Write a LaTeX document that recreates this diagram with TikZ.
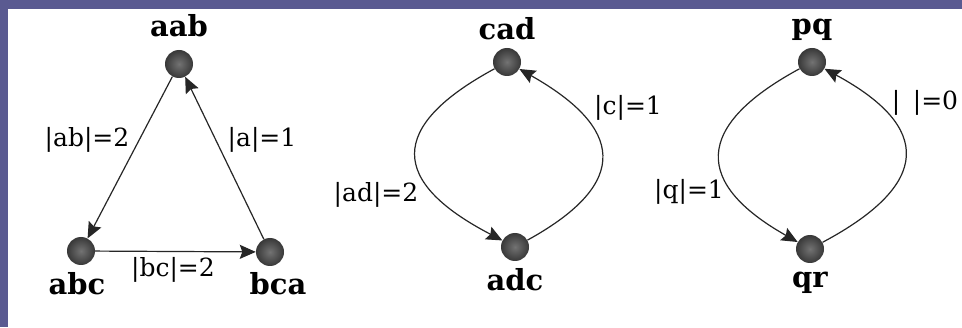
\documentclass[tikz,border=0pt]{standalone}
\usepackage{fontspec}
\setmainfont{DejaVu Serif}
\usetikzlibrary{arrows.meta}
\definecolor{slidebg}{RGB}{90,90,145}
\tikzset{
  vert/.style={circle, minimum size=28pt, inner sep=0pt, shading=radial, inner color=black!55, outer color=black!78},
  vname/.style={font=\fontsize{29}{32}\selectfont\bfseries, anchor=base, inner sep=0pt},
  elab/.style={font=\fontsize{25}{27}\selectfont, inner sep=0pt},
  arr/.style={line width=1.2pt, draw=black!85, -{Stealth[length=16pt,width=14pt,inset=2.5pt]}},
}
\begin{document}
\begin{tikzpicture}[x=1pt,y=1pt]
\useasboundingbox (0,0) rectangle (962,327);
\fill[slidebg] (0,0) rectangle (962,327);
\fill[white] (8,0) rectangle (962,318);

% left triangle
\node[vert] (aab) at (179,263) {};
\node[vert] (abc) at (81,76) {};
\node[vert] (bca) at (270,75) {};
\node[vname] (aabL) at (179,290) {aab};
\node[vname] (abcL) at (77,33) {abc};
\node[vname] (bcaL) at (278,33) {bca};
\draw[arr] (aab) -- (abc);
\draw[arr] (abc) -- (bca);
\draw[arr] (bca) -- (aab);
\node[elab] (lab) at (87,187) {|ab|=2};
\node[elab] (la) at (262,187) {|a|=1};
\node[elab] (lbc) at (173,57) {|bc|=2};

% middle loop
\node[vert] (cad) at (507,265) {};
\node[vert] (adc) at (515,80) {};
\node[vname] (cadL) at (507,287) {cad};
\node[vname] (adcL) at (515,37) {adc};
\draw[arr] (cad) .. controls +(-120,-65) and +(-125,65) .. (adc);
\draw[arr] (adc) .. controls +(118,65) and +(115,-65) .. (cad);
\node[elab] (lad) at (376,132) {|ad|=2};
\node[elab] (lc) at (628,219) {|c|=1};

% right loop
\node[vert] (pq) at (812,265) {};
\node[vert] (qr) at (810,78) {};
\node[vname] (pqL) at (812,292) {pq};
\node[vname] (qrL) at (810,39) {qr};
\draw[arr] (pq) .. controls +(-120,-65) and +(-115,65) .. (qr);
\draw[arr] (qr) .. controls +(122,65) and +(120,-65) .. (pq);
\node[elab] (lq) at (689,135) {|q|=1};
\node[elab] (le) at (925,224) {|\hspace{0.5em}|=0};
\end{tikzpicture}
\end{document}
